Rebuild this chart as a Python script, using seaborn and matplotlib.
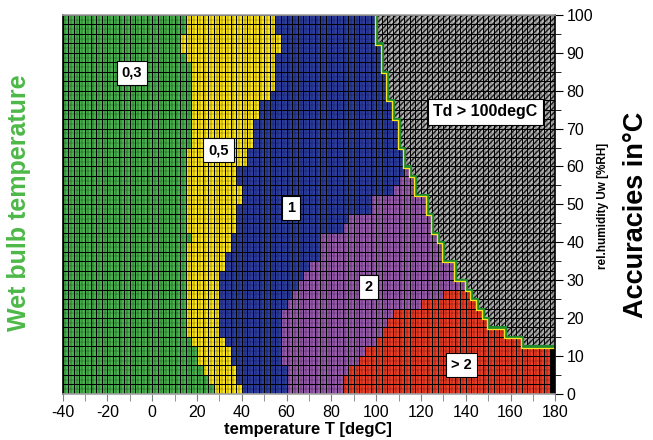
import numpy as np
import matplotlib
matplotlib.use("Agg")
import matplotlib.pyplot as plt
import seaborn as sns
from matplotlib.colors import ListedColormap
from matplotlib.patches import Rectangle

plt.rcParams["font.family"] = ["Liberation Sans", "DejaVu Sans"]

# grid: temperature columns of 2.5 degC, humidity rows of 2.5 %RH (listed bottom -> top)
T_MIN, T_MAX, T_STEP = -40, 180, 2.5
RH_STEP = 2.5

# temperature at which each zone starts, per humidity row (nan = zone absent)
nan = np.nan
t_yellow = [27.5, 25, 22.5, 20, 20, 17.5, 15, 15, 15, 15,
            15, 15, 15, 15, 15, 15, 17.5, 15, 15, 15,
            15, 15, 15, 15, 15, 15, 17.5, 17.5, 17.5, 17.5,
            17.5, 17.5, 17.5, 17.5, 17.5, 15, 12.5, 12.5, 15, 15]
t_blue = [40, 37.5, 37.5, 35, 35, 32.5, 30, 30, 30, 30,
          30, 30, 30, 32.5, 32.5, 35, 35, 37.5, 37.5, 37.5,
          40, 40, 37.5, 37.5, 42.5, 42.5, 45, 45, 45, 47.5,
          47.5, 52.5, 55, 55, 55, 55, 57.5, 57.5, 55, 55]
t_purple = [60, 60, 60, 57.5, 57.5, 57.5, 57.5, 57.5, 57.5, 60,
            62.5, 65, 67.5, 70, 75, 75, 75, 85, 87.5, 97.5,
            97.5, 107.5, 110, 112.5] + [nan] * 16
t_red = [85, 85, 87.5, 92.5, 95, 100, 102.5, 105, 107.5, 120,
         130] + [nan] * 29
t_black = [177.5] * 5 + [nan] * 35
t_hatch = [nan] * 5 + [165, 157.5, 150, 147.5, 145,
                       142.5, 140, 135, 135, 130, 130, 127.5, 125, 125, 122.5,
                       122.5, 117.5, 117.5, 115, 112.5, 112.5, 110, 110, 110, 107.5,
                       107.5, 105, 105, 105, 102.5, 102.5, 102.5, 100, 100, 100]

zone_colors = ["#48b64e", "#ffe81c", "#2c3fa4", "#9d5cb2", "#f23d24", "#000000"]
zone_labels = ["0,3", "0,5", "1", "2", "> 2"]
label_pos_T = [-9, 29.5, 62, 96.5, 138]
label_pos_RH = [84.7, 64.3, 49, 28.2, 7.6]

n_cols = int((T_MAX - T_MIN) / T_STEP)
n_rows = len(t_yellow)
t_centers = T_MIN + T_STEP * (np.arange(n_cols) + 0.5)

grid = np.zeros((n_rows, n_cols))
for r in range(n_rows):
    cat = np.zeros(n_cols)
    for k, bounds in enumerate([t_yellow, t_blue, t_purple, t_red, t_black], start=1):
        b = bounds[r]
        if not np.isnan(b):
            cat[t_centers > b] = k
    if not np.isnan(t_hatch[r]):
        cat[t_centers > t_hatch[r]] = np.nan
    grid[r] = cat

# heatmap rows run top -> bottom
grid = grid[::-1]

fig = plt.figure(figsize=(6.53, 4.40), dpi=100)
ax = fig.add_axes([0.096, 0.1052, 0.7544, 0.8607])

sns.heatmap(grid, ax=ax, cmap=ListedColormap(zone_colors), vmin=-0.5, vmax=5.5,
            cbar=False, linewidths=0, mask=np.isnan(grid))

# hatched background for Td > 100degC
ax.add_patch(Rectangle((0, 0), n_cols, n_rows, facecolor="#bdbdbd",
                       edgecolor="#222222", hatch="//////", lw=0, zorder=0))
ax.set_facecolor("#bdbdbd")

# cell grid
ax.vlines(np.arange(n_cols) + 0.5, 0, n_rows, color="black", lw=1.5, alpha=0.18, zorder=3)
ax.hlines(np.arange(n_rows) + 0.5, 0, n_cols, color="black", lw=1.2, alpha=0.12, zorder=3)
ax.vlines(np.arange(n_cols + 1), 0, n_rows, color="black", lw=0.75, zorder=4)
ax.hlines(np.arange(n_rows + 1), 0, n_cols, color="black", lw=0.75, zorder=4)

# contour edge along the Td = 100degC border
xs, ys = [], []
for r in range(n_rows):
    if np.isnan(t_hatch[r]):
        continue
    x = (t_hatch[r] - T_MIN) / T_STEP
    y_lo = n_rows - r
    y_hi = n_rows - r - 1
    if not xs:
        xs.append(n_cols)
        ys.append(y_lo)
    xs += [x, x]
    ys += [y_lo, y_hi]
ax.plot(xs, ys, color="#1e8a2e", lw=2.2, zorder=5, solid_joinstyle="miter")
ax.plot(np.array(xs) - 0.18, np.array(ys) + 0.12, color="#ffe61e", lw=0.9, zorder=6)

# zone labels
box = dict(boxstyle="square,pad=0.35", fc="white", ec="black", lw=0.8)
for lab, tx, rh in zip(zone_labels, label_pos_T, label_pos_RH):
    ax.text((tx - T_MIN) / T_STEP, (100 - rh) / RH_STEP, lab, ha="center", va="center",
            fontsize=10.5, fontweight="bold", bbox=box, zorder=10)
ax.text((148.8 - T_MIN) / T_STEP, (100 - 74.4) / RH_STEP, "Td > 100degC", ha="center",
        va="center", fontsize=11.5, fontweight="bold", bbox=box, zorder=10)

# axes / ticks
x_ticks = np.arange(-40, 181, 20)
ax.set_xticks((x_ticks - T_MIN) / T_STEP)
ax.set_xticklabels([str(t) for t in x_ticks], rotation=0, fontsize=11.5)
ax.set_xticks((np.arange(-30, 180, 20) - T_MIN) / T_STEP, minor=True)

y_ticks = np.arange(0, 101, 10)
ax.yaxis.tick_right()
ax.set_yticks((100 - y_ticks) / RH_STEP)
ax.set_yticklabels([str(v) for v in y_ticks], rotation=0, fontsize=11.5)
ax.set_yticks((100 - np.arange(5, 100, 10)) / RH_STEP, minor=True)

ax.tick_params(axis="x", which="both", direction="out", length=5, color="#808080",
               bottom=True, top=False, pad=3)
ax.tick_params(axis="y", which="major", direction="out", length=6, color="black",
               right=True, left=False, pad=2)
ax.tick_params(axis="y", which="minor", direction="out", length=4, color="black",
               right=True, left=False)
ax.set_xlabel("")
ax.set_ylabel("")
ax.set_xlim(0, n_cols)
ax.set_ylim(n_rows, 0)

for side, col in [("top", "#a0a0a0"), ("bottom", "#a0a0a0"), ("right", "black"), ("left", "black")]:
    ax.spines[side].set_visible(True)
    ax.spines[side].set_color(col)
    ax.spines[side].set_linewidth(1.2)
    ax.spines[side].set_zorder(8)

fig.text(0.472, 0.014, "temperature T [degC]", ha="center", va="baseline",
         fontsize=12, fontweight="bold")
fig.text(0.924, 0.532, "rel.humidity Uw [%RH]", rotation=90, ha="center", va="center",
         fontsize=8.5, fontweight="bold")
fig.text(0.974, 0.511, "Accuracies in°C", rotation=90, ha="center", va="center",
         fontsize=19.5, fontweight="bold")
fig.text(0.029, 0.539, "Wet bulb temperature", rotation=90, ha="center", va="center",
         fontsize=18, fontweight="bold", color="#4db848")

fig.savefig("out.png", dpi=100)
